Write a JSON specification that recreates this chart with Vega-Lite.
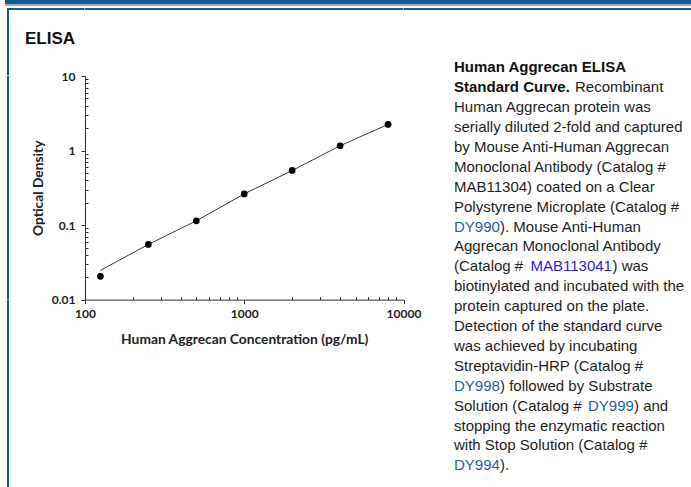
{
  "$schema": "https://vega.github.io/schema/vega-lite/v6.json",
  "padding": {"left": 5, "top": 0, "right": 0, "bottom": 0},
  "autosize": {"type": "pad"},
  "background": "white",
  "config": {"view": {"stroke": null}},
  "bounds": "flush",
  "spacing": 0,
  "datasets": {
    "none": [],
    "points": [
      {"conc": 125, "od": 0.0205},
      {"conc": 250, "od": 0.055},
      {"conc": 500, "od": 0.114},
      {"conc": 1000, "od": 0.262},
      {"conc": 2000, "od": 0.54},
      {"conc": 4000, "od": 1.16},
      {"conc": 8000, "od": 2.24}
    ],
    "fit": [
      {"conc": 125, "od": 0.0247},
      {"conc": 250, "od": 0.055},
      {"conc": 500, "od": 0.114},
      {"conc": 1000, "od": 0.262},
      {"conc": 2000, "od": 0.54},
      {"conc": 4000, "od": 1.16},
      {"conc": 8000, "od": 2.24}
    ],
    "para": [
      {"line": 1, "text": "Human Aggrecan ELISA", "style": "bold", "seg": "start"},
      {"line": 2, "text": "Standard Curve.", "style": "bold", "seg": "start"},
      {"line": 2, "text": "Recombinant", "style": "plain", "seg": "afterBold"},
      {"line": 3, "text": "Human Aggrecan protein was", "style": "plain", "seg": "start"},
      {"line": 4, "text": "serially diluted 2-fold and captured", "style": "plain", "seg": "start"},
      {"line": 5, "text": "by Mouse Anti-Human Aggrecan", "style": "plain", "seg": "start"},
      {"line": 6, "text": "Monoclonal Antibody (Catalog #", "style": "plain", "seg": "start"},
      {"line": 7, "text": "MAB11304) coated on a Clear", "style": "plain", "seg": "start"},
      {"line": 8, "text": "Polystyrene Microplate (Catalog #", "style": "plain", "seg": "start"},
      {"line": 9, "text": "DY990", "style": "link", "seg": "start"},
      {"line": 9, "text": "). Mouse Anti-Human", "style": "plain", "seg": "afterDY"},
      {"line": 10, "text": "Aggrecan Monoclonal Antibody", "style": "plain", "seg": "start"},
      {"line": 11, "text": "(Catalog #", "style": "plain", "seg": "start"},
      {"line": 11, "text": "MAB113041", "style": "link2", "seg": "afterCat"},
      {"line": 11, "text": ") was", "style": "plain", "seg": "afterMAB"},
      {"line": 12, "text": "biotinylated and incubated with the", "style": "plain", "seg": "start"},
      {"line": 13, "text": "protein captured on the plate.", "style": "plain", "seg": "start"},
      {"line": 14, "text": "Detection of the standard curve", "style": "plain", "seg": "start"},
      {"line": 15, "text": "was achieved by incubating", "style": "plain", "seg": "start"},
      {"line": 16, "text": "Streptavidin-HRP (Catalog #", "style": "plain", "seg": "start"},
      {"line": 17, "text": "DY998", "style": "link", "seg": "start"},
      {"line": 17, "text": ") followed by Substrate", "style": "plain", "seg": "afterDY"},
      {"line": 18, "text": "Solution (Catalog #", "style": "plain", "seg": "start"},
      {"line": 18, "text": "DY999", "style": "link", "seg": "afterSol"},
      {"line": 18, "text": ") and", "style": "plain", "seg": "afterDY999"},
      {"line": 19, "text": "stopping the enzymatic reaction", "style": "plain", "seg": "start"},
      {"line": 20, "text": "with Stop Solution (Catalog #", "style": "plain", "seg": "start"},
      {"line": 21, "text": "DY994", "style": "link", "seg": "start"},
      {"line": 21, "text": ").", "style": "plain", "seg": "afterDY"}
    ]
  },
  "vconcat": [
    {"width": 686, "height": 4, "view": {"fill": "#0b5c9a"}, "data": {"name": "none"}, "mark": "rect", "encoding": {}},
    {"width": 686, "height": 2, "view": {"fill": "#a6a6a6"}, "data": {"name": "none"}, "mark": "rect", "encoding": {}},
    {"width": 686, "height": 2, "data": {"name": "none"}, "mark": "rect", "encoding": {}},
    {
      "columns": 6,
      "bounds": "flush",
      "spacing": 0,
      "concat": [
        {"width": 2, "height": 2, "data": {"name": "none"}, "mark": "rect", "encoding": {}},
        {"width": 2, "height": 2, "view": {"fill": "#0b5c9a"}, "data": {"name": "none"}, "mark": "rect", "encoding": {}},
        {"width": 75.5, "height": 2, "view": {"fill": "#0b5c9a"}, "data": {"name": "none"}, "mark": "rect", "encoding": {}},
        {"width": 318.5, "height": 2, "view": {"fill": "#0b5c9a"}, "data": {"name": "none"}, "mark": "rect", "encoding": {}},
        {"width": 50, "height": 2, "view": {"fill": "#0b5c9a"}, "data": {"name": "none"}, "mark": "rect", "encoding": {}},
        {"width": 238, "height": 2, "view": {"fill": "#0b5c9a"}, "data": {"name": "none"}, "mark": "rect", "encoding": {}},

        {"width": 1, "height": 1, "data": {"name": "none"}, "mark": "rect", "encoding": {}},
        {"width": 2, "height": 65.2, "view": {"fill": "#0b5c9a"}, "data": {"name": "none"}, "mark": "rect", "encoding": {}},
        {"width": 1, "height": 1, "data": {"name": "none"}, "mark": "rect", "encoding": {}},
        {"width": 1, "height": 1, "data": {"name": "none"}, "mark": "rect", "encoding": {}},
        {"width": 1, "height": 1, "data": {"name": "none"}, "mark": "rect", "encoding": {}},
        {"width": 1, "height": 1, "data": {"name": "none"}, "mark": "rect", "encoding": {}},

        {"width": 1, "height": 1, "data": {"name": "none"}, "mark": "rect", "encoding": {}},
        {"width": 2, "height": 223.6, "view": {"fill": "#0b5c9a"}, "data": {"name": "none"}, "mark": "rect", "encoding": {}},
        {"width": 1, "height": 1, "data": {"name": "none"}, "mark": "rect", "encoding": {}},
        {
          "width": 318.5,
          "height": 223.6,
          "title": {"text": "ELISA", "anchor": "start", "frame": "group", "dx": -60, "offset": 22, "fontSize": 17, "font": "Liberation Sans", "fontWeight": "bold", "color": "#111111"},
          "encoding": {
            "x": {
              "field": "conc", "type": "quantitative",
              "scale": {"type": "log", "domain": [100, 10000], "nice": false},
              "axis": {
                "title": "Human Aggrecan Concentration (pg/mL)",
                "values": [100, 200, 300, 400, 500, 600, 700, 800, 900, 1000, 2000, 3000, 4000, 5000, 6000, 7000, 8000, 9000, 10000],
                "format": "d",
                "labelExpr": "datum.value == 100 || datum.value == 1000 || datum.value == 10000 ? datum.label : ''",
                "tickSize": {"condition": {"test": "datum.value == 100 || datum.value == 1000 || datum.value == 10000", "value": 4}, "value": -3},
                "grid": false,
                "domainColor": "#333333",
                "tickColor": "#333333",
                "labelFlush": false,
                "labelOverlap": false,
                "labelFont": "Lato",
                "labelFontWeight": "bold",
                "labelFontSize": 12,
                "labelColor": "#222222",
                "labelPadding": 5,
                "titleFont": "Lato",
                "titleFontWeight": "bold",
                "titleFontSize": 13.8,
                "titleColor": "#222222",
                "titlePadding": 13
              }
            },
            "y": {
              "field": "od", "type": "quantitative",
              "scale": {"type": "log", "domain": [0.01, 10], "nice": false},
              "axis": {
                "title": "Optical Density",
                "values": [0.01, 0.02, 0.03, 0.04, 0.05, 0.06, 0.07, 0.08, 0.09, 0.1, 0.2, 0.3, 0.4, 0.5, 0.6, 0.7, 0.8, 0.9, 1, 2, 3, 4, 5, 6, 7, 8, 9, 10],
                "labelExpr": "datum.value == 0.01 ? '0.01' : datum.value == 0.1 ? '0.1' : datum.value == 1 ? '1' : datum.value == 10 ? '10' : ''",
                "tickSize": {"condition": {"test": "datum.value == 0.01 || datum.value == 0.1 || datum.value == 1 || datum.value == 10", "value": 4}, "value": -3},
                "grid": false,
                "domainColor": "#333333",
                "tickColor": "#333333",
                "labelFlush": false,
                "labelOverlap": false,
                "labelFont": "Lato",
                "labelFontWeight": "bold",
                "labelFontSize": 12,
                "labelColor": "#222222",
                "labelPadding": 6,
                "titleFont": "Lato",
                "titleFontWeight": "bold",
                "titleFontSize": 13.8,
                "titleColor": "#222222",
                "titlePadding": 6
              }
            }
          },
          "layer": [
            {"data": {"name": "fit"}, "mark": {"type": "line", "color": "#3a3a3a", "strokeWidth": 1}},
            {"data": {"name": "points"}, "mark": {"type": "circle", "size": 45, "color": "#000000", "opacity": 1}}
          ]
        },
        {"width": 1, "height": 1, "data": {"name": "none"}, "mark": "rect", "encoding": {}},
        {
          "width": 1,
          "height": 223.6,
          "data": {"name": "para"},
          "encoding": {
            "y": {"field": "line", "type": "ordinal", "axis": null, "scale": {"range": [-18.65, 399.25], "paddingInner": 0, "paddingOuter": 0}},
            "text": {"field": "text"},
            "color": {"field": "style", "type": "nominal", "legend": null, "scale": {"domain": ["bold", "plain", "link", "link2"], "range": ["#111111", "#1e1e1e", "#1c5fa3", "#1f24e6"]}}
          },
          "layer": [
            {"transform": [{"filter": "datum.seg == 'start' && datum.style == 'bold'"}], "mark": {"type": "text", "align": "left", "baseline": "middle", "font": "Liberation Sans", "fontSize": 15, "fontWeight": "bold", "dx": -0.5}},
            {"transform": [{"filter": "datum.seg == 'start' && datum.style != 'bold'"}], "mark": {"type": "text", "align": "left", "baseline": "middle", "font": "Liberation Sans", "fontSize": 15, "dx": -0.5}},
            {"transform": [{"filter": "datum.seg == 'afterBold'"}], "mark": {"type": "text", "align": "left", "baseline": "middle", "font": "Liberation Sans", "fontSize": 15, "dx": 120.5}},
            {"transform": [{"filter": "datum.seg == 'afterDY'"}], "mark": {"type": "text", "align": "left", "baseline": "middle", "font": "Liberation Sans", "fontSize": 15, "dx": 45.5}},
            {"transform": [{"filter": "datum.seg == 'afterCat'"}], "mark": {"type": "text", "align": "left", "baseline": "middle", "font": "Liberation Sans", "fontSize": 15, "dx": 76}},
            {"transform": [{"filter": "datum.seg == 'afterMAB'"}], "mark": {"type": "text", "align": "left", "baseline": "middle", "font": "Liberation Sans", "fontSize": 15, "dx": 158}},
            {"transform": [{"filter": "datum.seg == 'afterSol'"}], "mark": {"type": "text", "align": "left", "baseline": "middle", "font": "Liberation Sans", "fontSize": 15, "dx": 133.5}},
            {"transform": [{"filter": "datum.seg == 'afterDY999'"}], "mark": {"type": "text", "align": "left", "baseline": "middle", "font": "Liberation Sans", "fontSize": 15, "dx": 179.5}}
          ]
        },

        {"width": 1, "height": 1, "data": {"name": "none"}, "mark": "rect", "encoding": {}},
        {"width": 2, "height": 188.2, "view": {"fill": "#0b5c9a"}, "data": {"name": "none"}, "mark": "rect", "encoding": {}},
        {"width": 1, "height": 1, "data": {"name": "none"}, "mark": "rect", "encoding": {}},
        {"width": 1, "height": 1, "data": {"name": "none"}, "mark": "rect", "encoding": {}},
        {"width": 1, "height": 1, "data": {"name": "none"}, "mark": "rect", "encoding": {}},
        {"width": 1, "height": 1, "data": {"name": "none"}, "mark": "rect", "encoding": {}}
      ]
    }
  ]
}
